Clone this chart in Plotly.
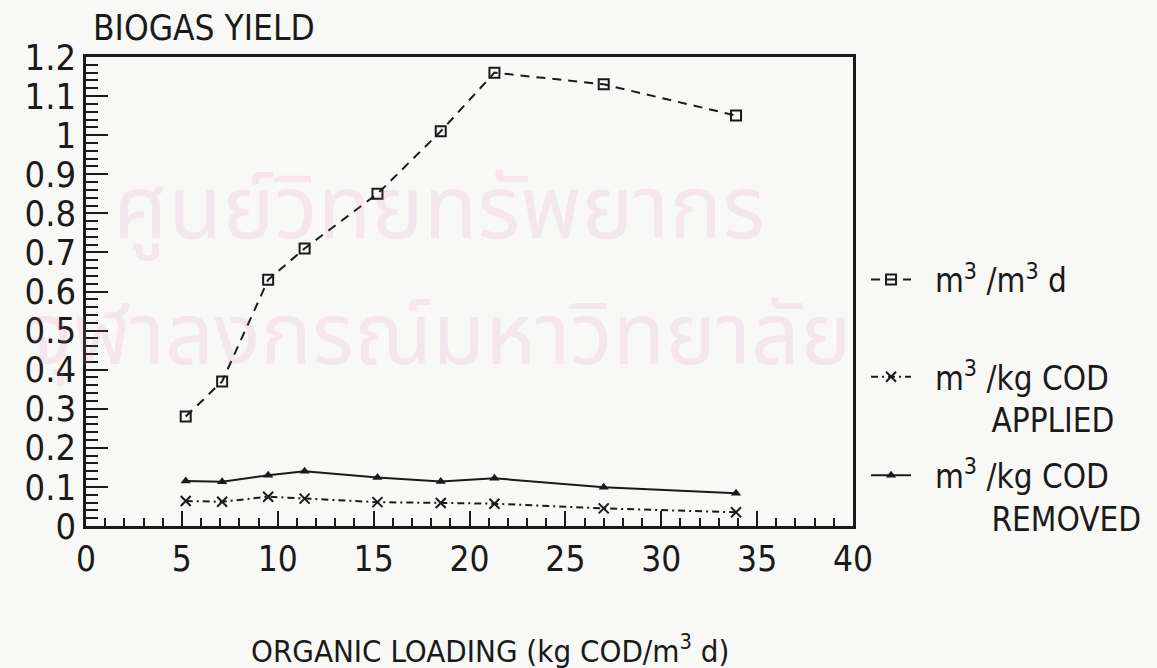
import plotly.graph_objects as go

# Organic loading rate (kg COD/m3 d) for each run
loading = [5.2, 7.1, 9.5, 11.4, 15.2, 18.5, 21.3, 27.0, 33.9]

# Biogas yield expressed three ways
yield_per_volume = [0.28, 0.37, 0.63, 0.71, 0.85, 1.01, 1.16, 1.13, 1.05]     # m3/m3 d
yield_cod_applied = [0.064, 0.062, 0.075, 0.070, 0.061, 0.059, 0.057, 0.045, 0.035]  # m3/kg COD applied
yield_cod_removed = [0.115, 0.113, 0.130, 0.140, 0.124, 0.114, 0.122, 0.099, 0.084]  # m3/kg COD removed

x_ticks = [0, 5, 10, 15, 20, 25, 30, 35, 40]
y_ticks = [0, 0.1, 0.2, 0.3, 0.4, 0.5, 0.6, 0.7, 0.8, 0.9, 1, 1.1, 1.2]
y_tick_text = ["0", "0.1", "0.2", "0.3", "0.4", "0.5", "0.6", "0.7", "0.8", "0.9", "1", "1.1", "1.2"]

INK = "#1a1a1a"
PAPER = "#f8f8f6"
FONT = "DejaVu Sans Condensed, DejaVu Sans, sans-serif"
NBSP = "\u00a0"

fig = go.Figure()

fig.add_trace(go.Scatter(
    x=loading, y=yield_per_volume, mode="lines+markers",
    name=NBSP * 2 + "m<sup>3</sup> /m<sup>3</sup> d",
    line=dict(color=INK, width=2, dash="9px,7px"),
    marker=dict(symbol="square-open", size=10, color=INK, line=dict(width=2)),
    legend="legend",
))
fig.add_trace(go.Scatter(
    x=loading, y=yield_cod_applied, mode="lines+markers",
    name=NBSP * 2 + "m<sup>3</sup> /kg COD<br>" + NBSP * 8 + "APPLIED",
    line=dict(color=INK, width=2, dash="7px,4px,2px,4px"),
    marker=dict(symbol="x-thin-open", size=10, color=INK, line=dict(width=2, color=INK)),
    legend="legend2",
))
fig.add_trace(go.Scatter(
    x=loading, y=yield_cod_removed, mode="lines+markers",
    name=NBSP * 2 + "m<sup>3</sup> /kg COD<br>" + NBSP * 8 + "REMOVED",
    line=dict(color=INK, width=2),
    marker=dict(symbol="triangle-up", size=9, color=INK),
    legend="legend3",
))

# Faint library watermark across the plot
watermark = ["ศูนย์วิทยทรัพยากร", "จุฬาลงกรณ์มหาวิทยาลัย"]
for text, (wx, wy, size) in zip(watermark, [(0.46, 0.67, 88), (0.46, 0.40, 86)]):
    fig.add_annotation(
        text=text, x=wx, y=wy, xref="paper", yref="paper",
        xanchor="center", yanchor="middle", showarrow=False,
        font=dict(size=size, color="rgba(215,120,175,0.14)", family="Noto Sans Thai, Noto Sans, sans-serif"),
    )

fig.add_annotation(
    text="BIOGAS YIELD", x=0.006, y=1.062, xref="paper", yref="paper",
    xanchor="left", yanchor="middle", showarrow=False,
    font=dict(size=35, color=INK, family=FONT),
)
fig.add_annotation(
    text="ORGANIC LOADING (kg COD/m<sup>3</sup> d)", x=0.527, y=-0.262,
    xref="paper", yref="paper", xanchor="center", yanchor="middle", showarrow=False,
    font=dict(size=31, color=INK, family=FONT),
)

legend_style = dict(
    bgcolor="rgba(0,0,0,0)", font=dict(size=33, color=INK, family=FONT),
    xanchor="left", yanchor="top", valign="top", itemwidth=40,
)

fig.update_layout(
    width=1157, height=668,
    margin=dict(l=86, r=304, t=57, b=142, autoexpand=False),
    paper_bgcolor=PAPER, plot_bgcolor=PAPER,
    font=dict(family=FONT, color=INK, size=34),
    showlegend=True,
    legend=dict(x=1.017, y=0.585, **legend_style),
    legend2=dict(x=1.017, y=0.378, **legend_style),
    legend3=dict(x=1.017, y=0.168, **legend_style),
    xaxis=dict(
        range=[0, 40], tickmode="array", tickvals=x_ticks,
        ticks="inside", ticklen=15, tickwidth=2, tickcolor=INK,
        minor=dict(dtick=1, tick0=0, ticks="inside", ticklen=8, tickwidth=2, tickcolor=INK),
        showline=True, linewidth=2.5, linecolor=INK, mirror=True,
        showgrid=False, zeroline=False,
        tickfont=dict(size=35, color=INK, family=FONT), ticklabelstandoff=0,
    ),
    yaxis=dict(
        range=[0, 1.2], tickmode="array", tickvals=y_ticks, ticktext=y_tick_text,
        ticks="inside", ticklen=22, tickwidth=2, tickcolor=INK,
        minor=dict(dtick=0.02, tick0=0, ticks="inside", ticklen=12, tickwidth=2, tickcolor=INK),
        showline=True, linewidth=2.5, linecolor=INK, mirror=True,
        showgrid=False, zeroline=False,
        tickfont=dict(size=36, color=INK, family=FONT), ticklabelstandoff=0,
    ),
)

fig.write_html("out.html")
